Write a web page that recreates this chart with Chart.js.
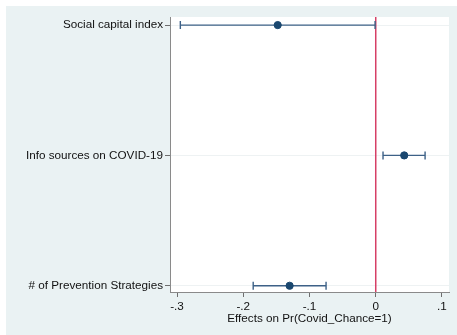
<!DOCTYPE html>
<html><head><meta charset="utf-8">
<script src="https://cdn.jsdelivr.net/npm/chart.js@4/dist/chart.umd.min.js"></script>
<style>
html,body{margin:0;padding:0;background:#fff;}
#wrap{position:absolute;left:6px;top:6px;width:451px;height:329px;background:#eaf2f3;}
</style></head><body>
<div id="wrap"><canvas id="c" width="451" height="329"></canvas></div>
<script>
const categories = ["Social capital index", "Info sources on COVID-19", "# of Prevention Strategies"];
const estimates = [-0.148, 0.043, -0.130];
const lowerCI = [-0.295, 0.011, -0.185];
const upperCI = [-0.001, 0.0745, -0.075];
const xTicks = [-0.3, -0.2, -0.1, 0, 0.1];
const xTickLabels = ["-.3", "-.2", "-.1", "0", ".1"];
const refLine = 0;

const FONT = {family: "'Liberation Sans', Arial, sans-serif", size: 11.7};

const bgPlugin = {
  id: 'bg',
  beforeDraw(chart){
    const {ctx, chartArea:a} = chart;
    ctx.save();
    ctx.fillStyle = '#ffffff';
    ctx.fillRect(a.left, a.top, a.right - a.left, a.bottom - a.top);
    ctx.restore();
  },
  beforeDatasetsDraw(chart){
    const {ctx, chartArea:a, scales:{x, y}} = chart;
    ctx.save();
    const px = x.getPixelForValue(refLine);
    ctx.strokeStyle = '#d63f66';
    ctx.lineWidth = 1.5;
    ctx.beginPath(); ctx.moveTo(px, a.top); ctx.lineTo(px, a.bottom); ctx.stroke();
    ctx.strokeStyle = '#3d6187';
    ctx.lineWidth = 1.4;
    categories.forEach((c, i) => {
      const py = y.getPixelForValue(i + 1);
      const l = x.getPixelForValue(lowerCI[i]);
      const r = x.getPixelForValue(upperCI[i]);
      ctx.beginPath();
      ctx.moveTo(l, py); ctx.lineTo(r, py);
      ctx.moveTo(l, py - 4); ctx.lineTo(l, py + 4);
      ctx.moveTo(r, py - 4); ctx.lineTo(r, py + 4);
      ctx.stroke();
    });
    ctx.restore();
  }
};

new Chart(document.getElementById('c'), {
  type: 'scatter',
  data: {
    datasets: [{
      data: estimates.map((v, i) => ({x: v, y: i + 1})),
      backgroundColor: '#1a476f',
      borderColor: '#1a476f',
      pointRadius: 3.6,
      pointHoverRadius: 3.6
    }]
  },
  options: {
    responsive: false,
    animation: false,
    layout: {padding: {top: 11, right: 8, left: 0, bottom: 9}},
    plugins: {legend: {display: false}, tooltip: {enabled: false}},
    scales: {
      x: {
        type: 'linear',
        min: -0.3106, max: 0.1106,
        afterBuildTicks(s){ s.ticks = xTicks.map(v => ({value: v})); },
        afterFit(s){ s.height = 34; },
        ticks: {
          color: '#111', font: FONT, padding: 3, maxRotation: 0,
          callback: (v) => { const k = xTicks.findIndex(t => Math.abs(t - v) < 1e-9); return k >= 0 ? xTickLabels[k] : ''; }
        },
        grid: {drawOnChartArea: false, drawTicks: true, tickLength: 5, tickColor: '#6e6e6e', tickWidth: 1},
        border: {display: true, color: '#8a8a8a', width: 1},
        title: {display: true, text: 'Effects on Pr(Covid_Chance=1)', color: '#111', font: FONT, padding: {top: 0, bottom: 0}}
      },
      y: {
        type: 'linear',
        reverse: true,
        min: 0.938, max: 3.048,
        afterBuildTicks(s){ s.ticks = categories.map((c, i) => ({value: i + 1})); },
        afterFit(s){ s.width = 164; },
        ticks: {
          color: '#111', font: FONT, padding: 2,
          callback: (v) => categories[Math.round(v) - 1] || ''
        },
        grid: {drawOnChartArea: true, color: '#eef2f3', lineWidth: 1, drawTicks: true, tickLength: 5, tickColor: '#6e6e6e', tickWidth: 1},
        border: {display: true, color: '#8a8a8a', width: 1}
      }
    }
  },
  plugins: [bgPlugin]
});
</script>
</body></html>
